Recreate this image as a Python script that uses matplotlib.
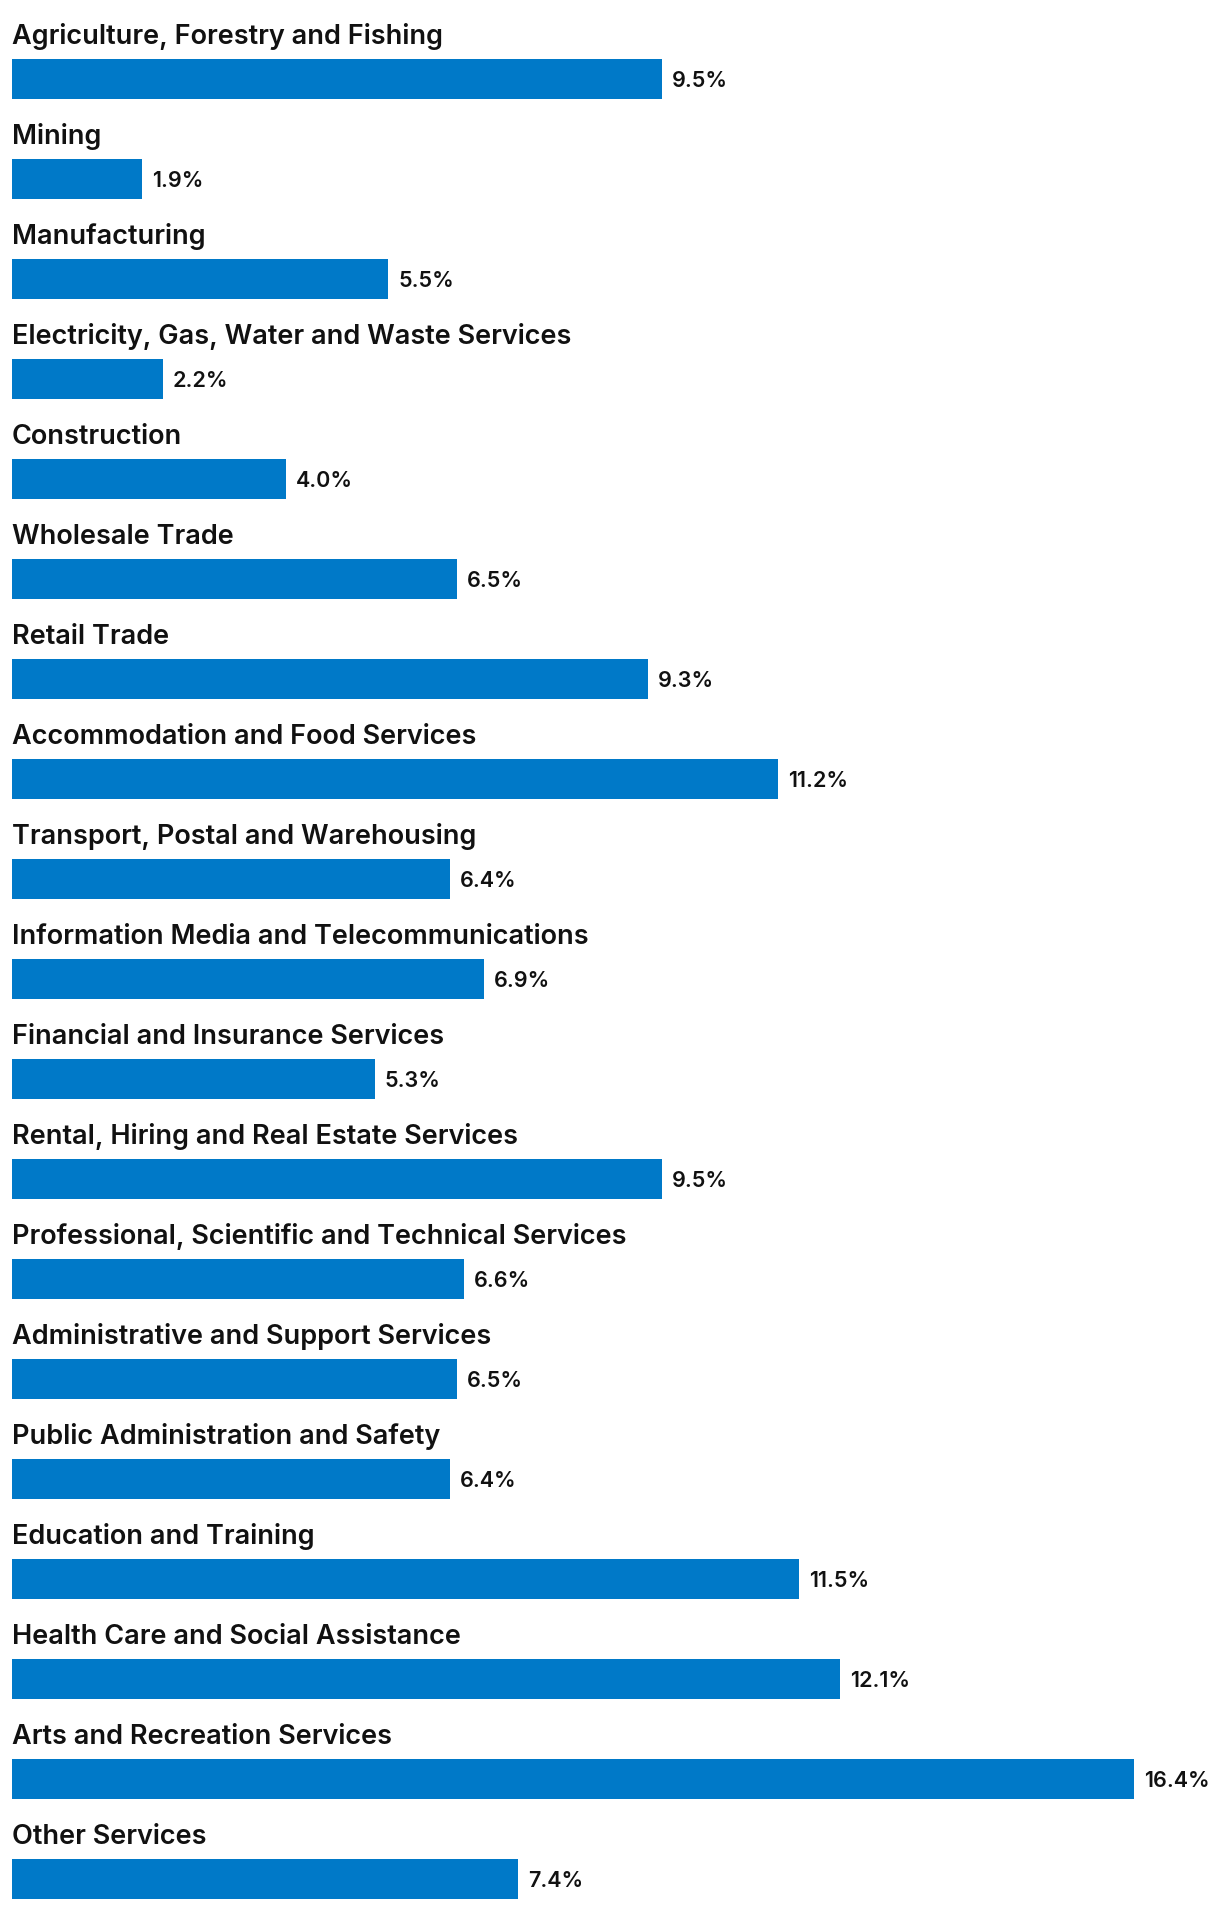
import matplotlib
matplotlib.use('Agg')
from matplotlib import pyplot as plt

industries = [
    'Agriculture, Forestry and Fishing',
    'Mining',
    'Manufacturing',
    'Electricity, Gas, Water and Waste Services',
    'Construction',
    'Wholesale Trade',
    'Retail Trade',
    'Accommodation and Food Services',
    'Transport, Postal and Warehousing',
    'Information Media and Telecommunications',
    'Financial and Insurance Services',
    'Rental, Hiring and Real Estate Services',
    'Professional, Scientific and Technical Services',
    'Administrative and Support Services',
    'Public Administration and Safety',
    'Education and Training',
    'Health Care and Social Assistance',
    'Arts and Recreation Services',
    'Other Services',
]
shares = [9.5, 1.9, 5.5, 2.2, 4.0, 6.5, 9.3, 11.2, 6.4, 6.9,
          5.3, 9.5, 6.6, 6.5, 6.4, 11.5, 12.1, 16.4, 7.4]

plt.rcParams['font.family'] = ['Inter', 'DejaVu Sans']

fig = plt.figure(figsize=(12.2, 19.08), dpi=100)
ax = fig.add_axes([0, 0, 1, 1])

pos = list(range(len(industries)))
ax.barh(pos, shares, height=0.4, color='#0079c8', left=0)

for i, (name, v) in enumerate(zip(industries, shares)):
    ax.text(0, i - 0.36, name, fontsize=19.5, fontweight=600,
            color='#111111', va='baseline', ha='left')
    ax.text(v + 0.146, i + 0.01, f'{v:.1f}%', fontsize=15.5, fontweight=600,
            color='#111111', va='center', ha='left')

px = 68.41
ax.set_xlim(-12 / px, (1220 - 12) / px)
ax.set_ylim(18.28, -0.80)
ax.axis('off')

fig.savefig('out.png', dpi=100, facecolor='white')
